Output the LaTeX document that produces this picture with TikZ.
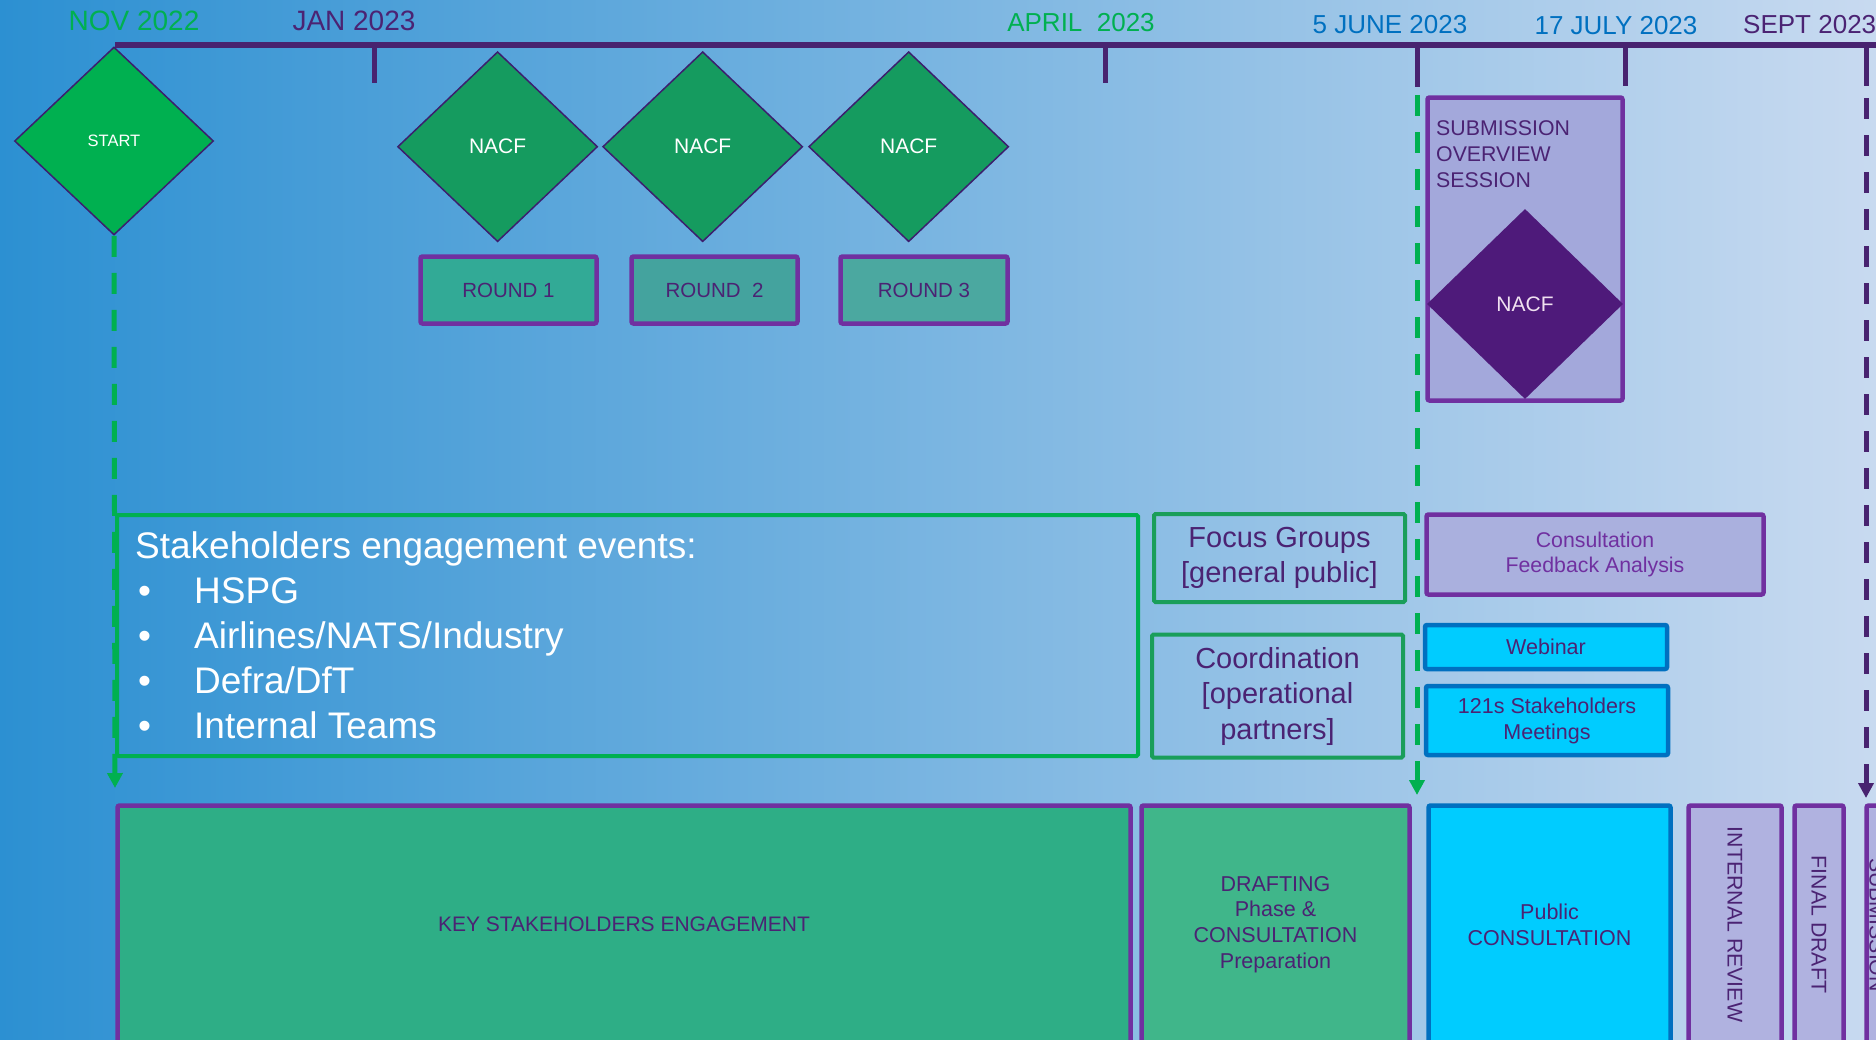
\documentclass[tikz,border=0pt]{standalone}
\usepackage{fontspec}
\setmainfont{Liberation Sans}
\usetikzlibrary{shapes.geometric,arrows.meta}
\definecolor{bgL}{RGB}{44,144,210}
\definecolor{bgM}{RGB}{128,176,225}
\definecolor{bgR}{RGB}{200,218,240}
\definecolor{tlpurple}{RGB}{72,35,112}
\definecolor{txtpurple}{RGB}{75,35,115}
\definecolor{boxpurple}{RGB}{112,48,160}
\definecolor{startgreen}{RGB}{0,176,80}
\definecolor{nacfgreen}{RGB}{21,155,95}
\definecolor{diaedge}{RGB}{60,30,110}
\definecolor{rfillA}{RGB}{50,170,150}
\definecolor{rfillB}{RGB}{68,163,158}
\definecolor{rfillC}{RGB}{75,168,160}
\definecolor{keyfill}{RGB}{46,174,134}
\definecolor{draftfill}{RGB}{64,182,138}
\definecolor{cyanfill}{RGB}{0,204,255}
\definecolor{cyanedge}{RGB}{0,112,192}
\definecolor{lavfill}{RGB}{176,178,224}
\definecolor{sublav}{RGB}{163,168,219}
\definecolor{cfalav}{RGB}{170,176,222}
\definecolor{purdia}{RGB}{78,26,122}
\definecolor{focusgreen}{RGB}{26,158,90}
\definecolor{datblue}{RGB}{0,112,192}
\definecolor{nacflight}{RGB}{240,225,240}
\begin{document}
\begin{tikzpicture}[x=1pt,y=-1pt,
  datelbl/.style={inner sep=0pt, anchor=base},
  tlline/.style={draw=tlpurple, line width=5.5pt},
  tickline/.style={draw=tlpurple, line width=5pt},
  gdash/.style={draw=startgreen, line width=5pt, dash pattern=on 21pt off 16pt, -{Triangle[width=15pt,length=15pt]}},
  pdash/.style={draw=tlpurple, line width=5pt, dash pattern=on 21pt off 16pt, -{Triangle[width=15pt,length=15pt]}},
  greendia/.style={diamond, draw=diaedge, line width=1.5pt, fill=nacfgreen, inner sep=0pt,
     minimum width=200pt, minimum height=190pt, text=white, font=\fontsize{21}{25}\selectfont},
  roundbox/.style={draw=boxpurple, line width=4.5pt, rounded corners=2pt, minimum height=67pt,
     inner sep=0pt, text=txtpurple, font=\fontsize{20.5}{25}\selectfont},
  greenframe/.style={draw=focusgreen, line width=4pt, rounded corners=1.5pt, inner sep=0pt,
     text=txtpurple, align=center, font=\fontsize{29}{35.5}\selectfont},
  purplebox/.style={draw=boxpurple, line width=4.5pt, rounded corners=2pt, inner sep=0pt},
  cyanbox/.style={draw=cyanedge, fill=cyanfill, line width=4.5pt, rounded corners=2pt, inner sep=0pt,
     text=txtpurple, align=center, font=\fontsize{21.5}{26}\selectfont},
  botbox/.style={line width=4.5pt, rounded corners=2pt, inner sep=0pt, minimum height=238pt,
     text=txtpurple, align=center, font=\fontsize{21.5}{25.7}\selectfont},
  vbox/.style={draw=boxpurple, fill=lavfill, line width=4.5pt, rounded corners=2pt, inner sep=0pt,
     rotate=-90, minimum width=238pt, text=txtpurple, font=\fontsize{21.3}{25}\selectfont}
]
\useasboundingbox (0,0) rectangle (1876,1039);
\clip (0,0) rectangle (1876,1039);
\shade[left color=bgL, middle color=bgM, right color=bgR] (0,0) rectangle (1876,1039);

% timeline
\coordinate (tlA) at (115,45);
\coordinate (tlB) at (1890,45);
\draw[tlline] (tlA) -- (tlB);
\coordinate (tJanA) at (374,45);   \coordinate (tJanB) at (374,83);
\coordinate (tAprA) at (1105,45);  \coordinate (tAprB) at (1105,83);
\coordinate (tJunA) at (1417,45);  \coordinate (tJunB) at (1417,87);
\coordinate (tJulA) at (1625,45);  \coordinate (tJulB) at (1625,86);
\coordinate (tSepA) at (1866,45);  \coordinate (tSepB) at (1866,86);
\draw[tickline] (tJanA) -- (tJanB);
\draw[tickline] (tAprA) -- (tAprB);
\draw[tickline] (tJunA) -- (tJunB);
\draw[tickline] (tJulA) -- (tJulB);
\draw[tickline] (tSepA) -- (tSepB);

% date labels
\node[datelbl, text=startgreen, font=\fontsize{28}{32}\selectfont] (lNov) at (134,30) {NOV 2022};
\node[datelbl, text=txtpurple, font=\fontsize{28}{32}\selectfont] (lJan) at (354,30) {JAN 2023};
\node[datelbl, text=startgreen, font=\fontsize{26}{30}\selectfont] (lApr) at (1081,31) {APRIL~~2023};
\node[datelbl, text=datblue, font=\fontsize{26}{30}\selectfont] (lJun) at (1390,33) {5 JUNE 2023};
\node[datelbl, text=datblue, font=\fontsize{26}{30}\selectfont] (lJul) at (1616,34) {17 JULY 2023};
\node[datelbl, anchor=base west, text=txtpurple, font=\fontsize{26}{30}\selectfont] (lSep) at (1743,33) {SEPT 2023};

% big frames (drawn first so dashed lines sit on top)
\node[greenframe, draw=startgreen, minimum width=1021pt, minimum height=241pt] (events) at (627.5,635.5) {};
\node[anchor=west, inner sep=0pt, text=white, align=left, font=\fontsize{37}{45}\selectfont] (eventstxt) at (135,635)
 {Stakeholders engagement events:\\
  \makebox[59pt][l]{\hspace{3pt}•}HSPG\\
  \makebox[59pt][l]{\hspace{3pt}•}Airlines/NATS/Industry\\
  \makebox[59pt][l]{\hspace{3pt}•}Defra/DfT\\
  \makebox[59pt][l]{\hspace{3pt}•}Internal Teams};
\node[greenframe, minimum width=251pt, minimum height=88pt] (focus) at (1279.5,558) {Focus Groups\\{[general public]}};
\node[greenframe, minimum width=251pt, minimum height=123pt] (coord) at (1277.5,696) {Coordination\\{[operational}\\partners]};

% diamonds
\node[greendia, fill=startgreen, minimum width=199pt, minimum height=188pt, font=\fontsize{16.5}{20}\selectfont] (start) at (114,141) {START};
\node[greendia] (nacfA) at (497.6,146.7) {NACF};
\node[greendia] (nacfB) at (702.7,146.7) {NACF};
\node[greendia] (nacfC) at (908.7,146.7) {NACF};

% rounds
\node[roundbox, fill=rfillA, minimum width=176pt] (rndA) at (508.5,290) {ROUND 1};
\node[roundbox, fill=rfillB, minimum width=166pt] (rndB) at (714.5,290) {ROUND~~2};
\node[roundbox, fill=rfillC, minimum width=167pt] (rndC) at (924,290) {ROUND 3};

% submission overview session
\node[purplebox, fill=sublav, minimum width=195pt, minimum height=303pt] (sos) at (1525,249) {};
\node[anchor=west, inner sep=0pt, align=left, text=txtpurple, font=\fontsize{21.3}{26}\selectfont] (sostxt) at (1436,154)
 {SUBMISSION\\OVERVIEW\\SESSION};
\node[diamond, fill=purdia, inner sep=0pt, minimum width=196pt, minimum height=190pt, text=nacflight,
      font=\fontsize{21}{25}\selectfont] (nacfD) at (1525,304) {NACF};

% consultation side boxes
\node[purplebox, fill=cfalav, minimum width=337pt, minimum height=80pt, align=center, text=boxpurple,
      font=\fontsize{21.3}{25}\selectfont] (cfa) at (1595,554.5) {Consultation\\Feedback Analysis};
\node[cyanbox, minimum width=242pt, minimum height=44pt] (web) at (1546,647) {Webinar};
\node[cyanbox, minimum width=242pt, minimum height=69pt] (ones) at (1547,720.5) {121s Stakeholders\\Meetings};

% bottom phase boxes
\node[botbox, draw=boxpurple, fill=keyfill, minimum width=1013pt, font=\fontsize{21}{25}\selectfont] (kse) at (624,924.5) {KEY STAKEHOLDERS ENGAGEMENT};
\node[botbox, draw=boxpurple, fill=draftfill, minimum width=268pt] (draft) at (1275.5,924.5) {DRAFTING\\Phase \&\\CONSULTATION\\Preparation};
\node[botbox, draw=cyanedge, fill=cyanfill, minimum width=242pt] (pubc) at (1549.5,924.5) {Public\\CONSULTATION};
\node[vbox, minimum height=93pt] (irev) at (1735,924.5) {INTERNAL REVIEW};
\node[vbox, minimum height=49pt] (fdraft) at (1819,924.5) {FINAL DRAFT};
\node[vbox, minimum height=45pt] (subm) at (1889,924.5) {};
\node[rotate=-90, inner sep=0pt, text=txtpurple, font=\fontsize{21.3}{25}\selectfont] (submtxt) at (1877,925) {SUBMISSION};

% dashed connectors
\coordinate (gA) at (115,788);
\draw[gdash] (start.south) -- (gA);
\coordinate (jA) at (1417,95);
\coordinate (jB) at (1417,795);
\draw[gdash] (jA) -- (jB);
\coordinate (sA) at (1866,98);
\coordinate (sB) at (1866,798);
\draw[pdash] (sA) -- (sB);
\end{tikzpicture}
\end{document}
